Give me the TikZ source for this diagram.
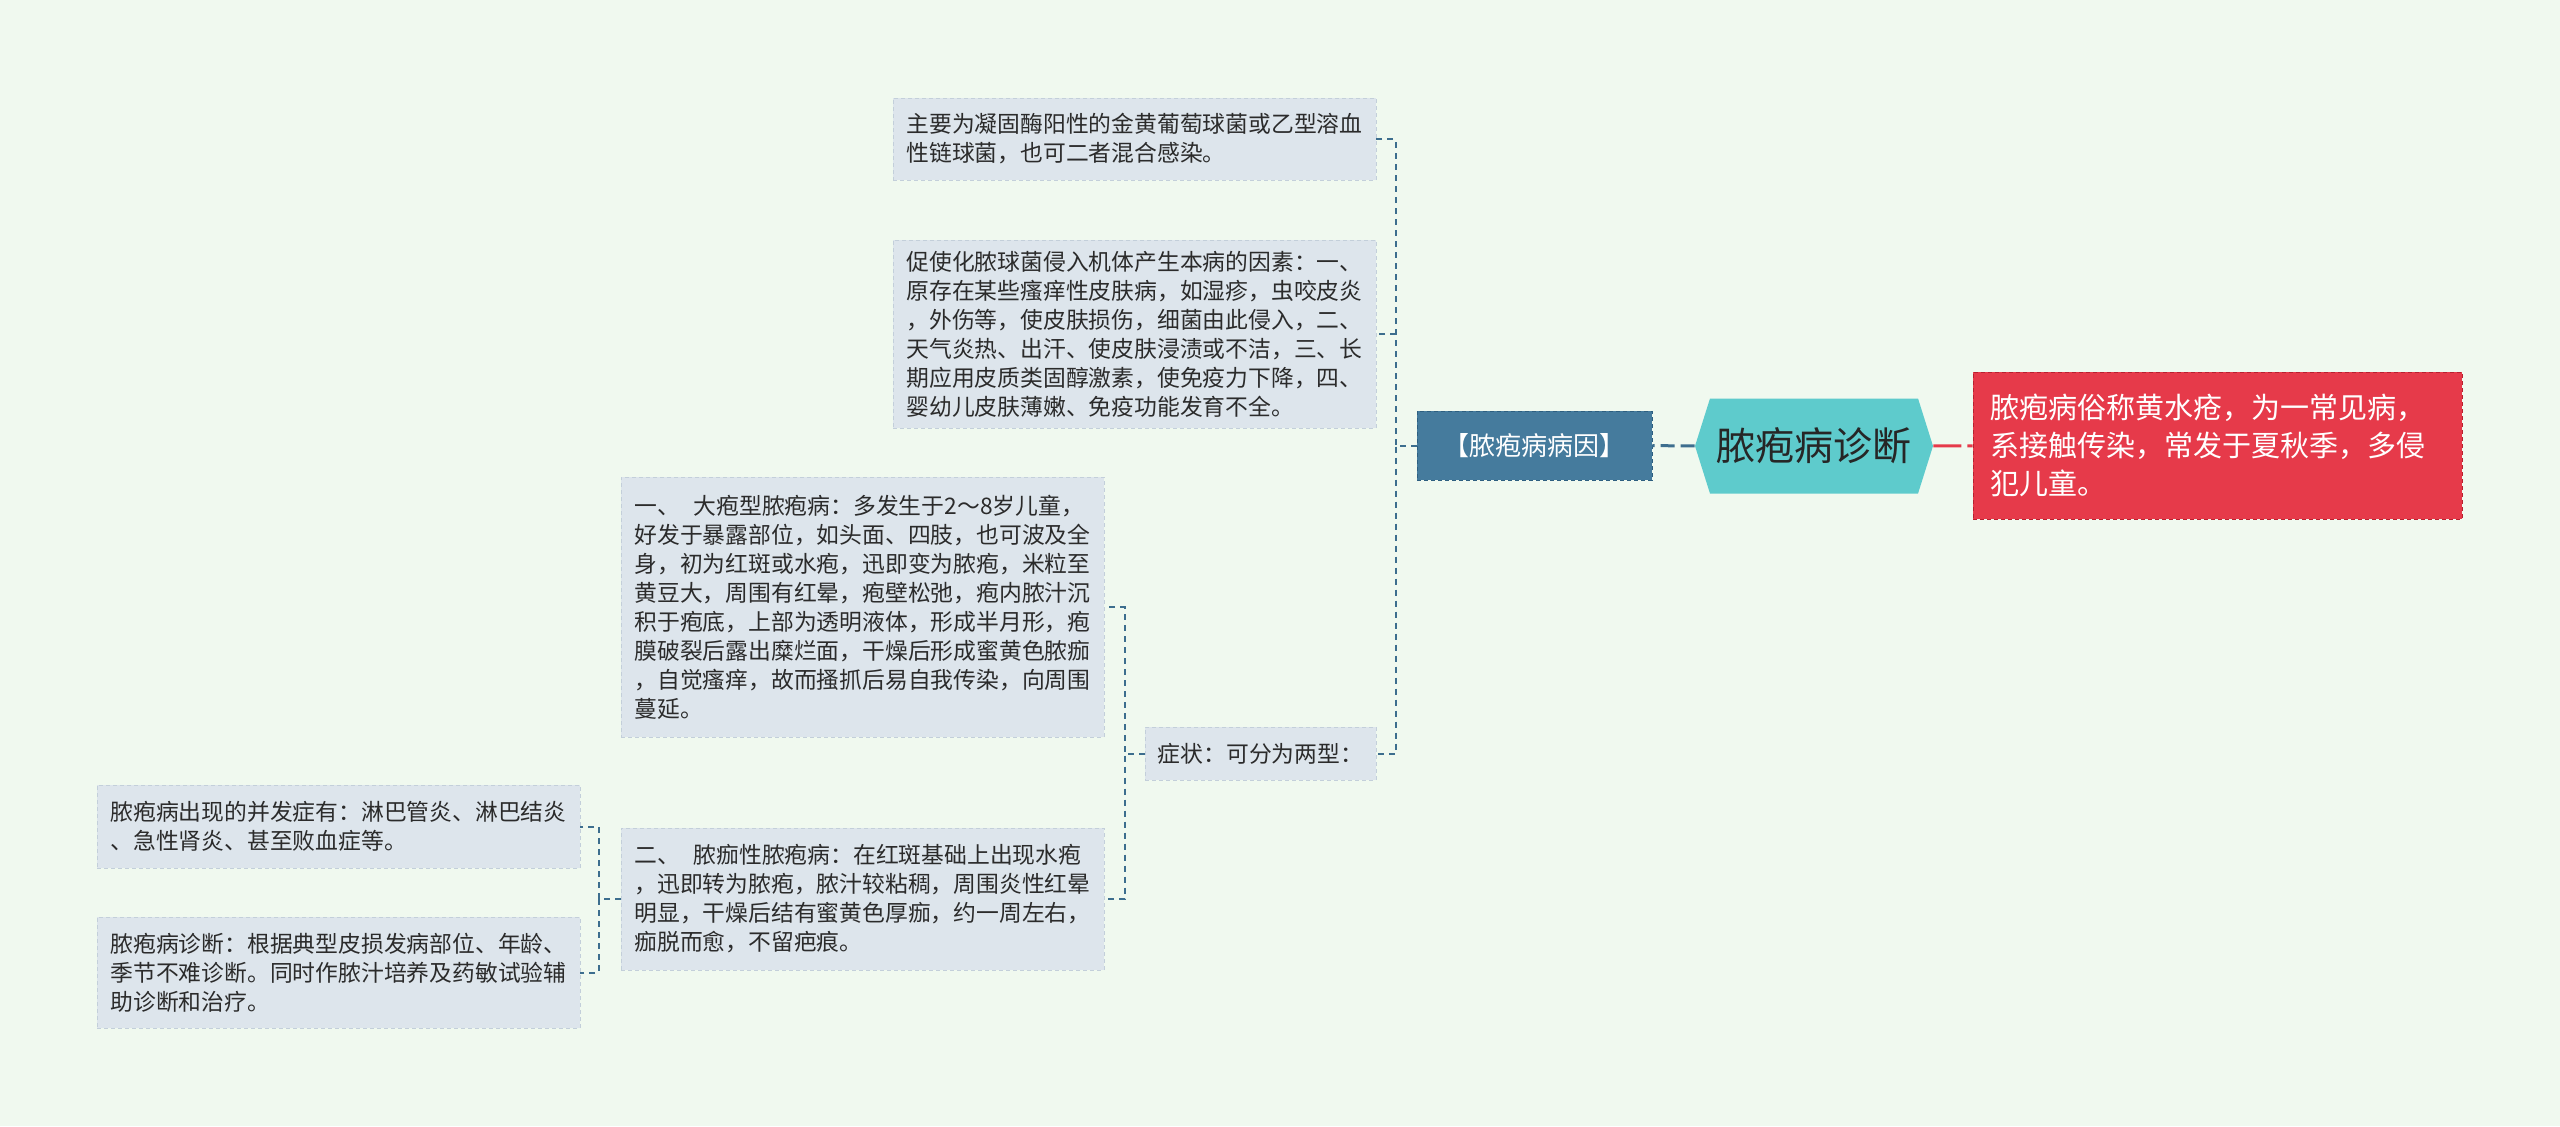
\documentclass[tikz,border=0pt]{standalone}
\usepackage{fontspec}
\setmainfont{Noto Sans CJK SC}
\usetikzlibrary{shapes.symbols}
\definecolor{bgcol}{HTML}{F0F9EF}
\definecolor{leafcol}{HTML}{DDE5EC}
\definecolor{leafedge}{HTML}{C3CFDA}
\definecolor{causecol}{HTML}{457B9D}
\definecolor{causeedge}{HTML}{2E5F80}
\definecolor{hubcol}{HTML}{5ECBCC}
\definecolor{introcol}{HTML}{E63A4A}
\definecolor{introedge}{HTML}{B8202F}
\definecolor{linkcol}{HTML}{3D6E8E}
\definecolor{inkcol}{HTML}{2B2B2B}

\begin{document}
\begin{tikzpicture}[x=0.5pt, y=-0.5pt,
    leafbox/.style={draw=leafedge, dash pattern=on 2pt off 1.5pt, fill=leafcol, text=inkcol,
        align=left, text width=228pt, inner xsep=6.75pt, inner ysep=0pt,
        font=\fontsize{11.4}{14.5}\selectfont},
    causebox/.style={draw=causeedge, dash pattern=on 2pt off 1.5pt, fill=causecol, text=white,
        minimum width=117.5pt, minimum height=34.5pt, inner sep=0pt, font=\fontsize{13}{15}\selectfont},
    hubbox/.style={signal, signal to=west and east, signal pointer angle=145, fill=hubcol,
        text=black!85, minimum width=119pt, minimum height=47.5pt, inner sep=0pt,
        font=\fontsize{19.5}{22}\selectfont},
    introbox/.style={draw=introedge, dash pattern=on 2pt off 1.5pt, fill=introcol, text=white,
        align=left, text width=227.5pt, inner xsep=8.5pt, inner ysep=0pt, minimum height=73.5pt,
        font=\fontsize{14.5}{19}\selectfont},
    link/.style={draw=linkcol, dash pattern=on 3pt off 2.5pt, line width=1pt},
    hublink/.style={draw=linkcol, dash pattern=on 7pt off 3pt, line width=1.5pt},
    introlink/.style={draw=introcol, dash pattern=on 14pt off 3pt, line width=1.5pt}]

    \fill[bgcol] (0, 0) rectangle (2560, 1126);

    \node (diag) [hubbox] at (1814, 446) {脓疱病诊断};
    \node (intro) [introbox] at (2217.5, 445.5) {脓疱病俗称黄水疮，为一常见病，\\系接触传染，常发于夏秋季，多侵\\犯儿童。};
    \node (cause) [causebox] at (1534.5, 445.5) {【脓疱病病因】};

    \node (germ) [leafbox, minimum height=41pt] at (1134.5, 139) {主要为凝固酶阳性的金黄葡萄球菌或乙型溶血\\性链球菌，也可二者混合感染。};
    \node (factor) [leafbox, minimum height=94pt] at (1134.5, 334) {促使化脓球菌侵入机体产生本病的因素：一、\\原存在某些瘙痒性皮肤病，如湿疹，虫咬皮炎\\，外伤等，使皮肤损伤，细菌由此侵入，二、\\天气炎热、出汗、使皮肤浸渍或不洁，三、长\\期应用皮质类固醇激素，使免疫力下降，四、\\婴幼儿皮肤薄嫩、免疫功能发育不全。};
    \node (symptom) [leafbox, text width=103pt, align=center, inner xsep=6.25pt, minimum height=26.5pt] at (1260.5, 753.5) {症状：可分为两型：};

    \node (bullous) [leafbox, minimum height=130pt] at (862.5, 607) {一、\hspace{0.6em}大疱型脓疱病：多发生于2～8岁儿童，\\好发于暴露部位，如头面、四肢，也可波及全\\身，初为红斑或水疱，迅即变为脓疱，米粒至\\黄豆大，周围有红晕，疱壁松弛，疱内脓汁沉\\积于疱底，上部为透明液体，形成半月形，疱\\膜破裂后露出糜烂面，干燥后形成蜜黄色脓痂\\，自觉瘙痒，故而搔抓后易自我传染，向周围\\蔓延。};
    \node (crust) [leafbox, minimum height=71pt] at (862.5, 899) {二、\hspace{0.6em}脓痂性脓疱病：在红斑基础上出现水疱\\，迅即转为脓疱，脓汁较粘稠，周围炎性红晕\\明显，干燥后结有蜜黄色厚痂，约一周左右，\\痂脱而愈，不留疤痕。};

    \node (complic) [leafbox, minimum height=41.5pt] at (338.5, 826.5) {脓疱病出现的并发症有：淋巴管炎、淋巴结炎\\、急性肾炎、甚至败血症等。};
    \node (diagnose) [leafbox, minimum height=55.5pt] at (338.5, 972.5) {脓疱病诊断：根据典型皮损发病部位、年龄、\\季节不难诊断。同时作脓汁培养及药敏试验辅\\助诊断和治疗。};

    \draw[hublink] (diag) -- (cause);
    \draw[introlink] (diag) -- (intro);

    \draw[link] (cause.west) -- ++(-21, 0) |- (germ.east);
    \draw[link] (cause.west) -- ++(-21, 0) |- (factor.east);
    \draw[link] (cause.west) -- ++(-21, 0) |- (symptom.east);

    \draw[link] (symptom.west) -- ++(-20, 0) |- (bullous.east);
    \draw[link] (symptom.west) -- ++(-20, 0) |- (crust.east);

    \draw[link] (crust.west) -- ++(-22, 0) |- (complic.east);
    \draw[link] (crust.west) -- ++(-22, 0) |- (diagnose.east);
\end{tikzpicture}
\end{document}
